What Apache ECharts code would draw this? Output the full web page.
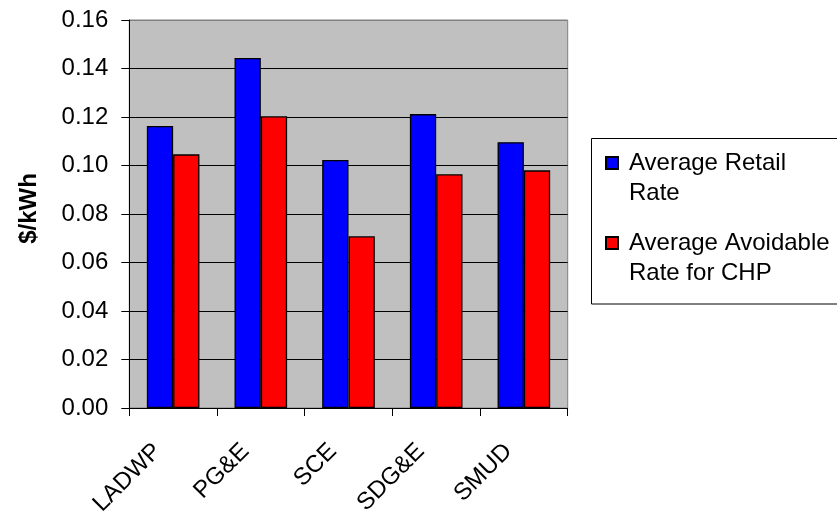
<!DOCTYPE html>
<html>
<head>
<meta charset="utf-8">
<script src="https://cdn.jsdelivr.net/npm/echarts@6/dist/echarts.min.js"></script>
<style>html,body{margin:0;padding:0;background:#fff}#c{width:837px;height:519px}</style>
</head>
<body>
<div id="c"></div>
<script>
var categories = ['LADWP', 'PG&E', 'SCE', 'SDG&E', 'SMUD'];
var retailRate = [0.1163, 0.1443, 0.1023, 0.1212, 0.1096];
var avoidableRate = [0.1046, 0.1203, 0.0708, 0.0964, 0.0980];
var seriesNames = ['Average Retail Rate', 'Average Avoidable Rate for CHP'];
var legendLabels = ['Average Retail\nRate', 'Average Avoidable\nRate for CHP'];
var yTicks = [0, 0.02, 0.04, 0.06, 0.08, 0.10, 0.12, 0.14, 0.16];

var FONT = '"Liberation Sans", Arial, sans-serif';
var chart = echarts.init(document.getElementById('c'), null, {renderer: 'canvas'});
var splitColors = yTicks.map(function (v, i) { return i === yTicks.length - 1 ? '#808080' : '#000000'; });

chart.setOption({
  animation: false,
  backgroundColor: '#ffffff',
  textStyle: {fontFamily: FONT},
  grid: {
    left: 129.3, right: 269.3, top: 20, bottom: 111,
    show: true, backgroundColor: '#c0c0c0', borderColor: '#808080', borderWidth: 1
  },
  xAxis: {
    type: 'category',
    data: categories,
    axisLine: {lineStyle: {color: '#000', width: 1}},
    axisTick: {show: true, length: 8, lineStyle: {color: '#000'}},
    axisLabel: {
      rotate: 45, margin: 24, fontSize: 24, color: '#000', fontFamily: FONT,
      padding: [0, 22, 0, 0], interval: 0
    },
    splitLine: {show: false}
  },
  yAxis: {
    type: 'value',
    min: 0, max: 0.16, interval: 0.02,
    name: '$/kWh',
    nameLocation: 'middle',
    nameGap: 88,
    nameTextStyle: {fontSize: 24, fontWeight: 'bold', color: '#000', fontFamily: FONT, padding: [0, 0, 0, 11]},
    axisLine: {show: true, lineStyle: {color: '#000', width: 1}},
    axisTick: {show: true, length: 8, lineStyle: {color: '#000'}},
    axisLabel: {
      margin: 21, fontSize: 24, color: '#000', fontFamily: FONT,
      formatter: function (v) { return v.toFixed(2); }
    },
    splitLine: {show: true, lineStyle: {color: splitColors, width: 1}}
  },
  legend: {
    orient: 'vertical',
    left: 605, top: 118,
    padding: 0,
    itemWidth: 12, itemHeight: 12,
    itemGap: -10,
    icon: 'rect',
    selectedMode: false,
    data: seriesNames,
    formatter: function (name) { return ' \n' + legendLabels[seriesNames.indexOf(name)]; },
    textStyle: {fontSize: 24, lineHeight: 30, color: '#000', fontFamily: FONT, padding: [0, 0, 0, 6]}
  },
  graphic: [{
    type: 'rect', z: -1,
    shape: {x: 591.5, y: 138.5, width: 260, height: 165.5},
    style: {fill: '#fff', stroke: '#000', lineWidth: 1}
  }],
  series: [{
    name: seriesNames[0], type: 'bar', data: retailRate,
    barGap: '0%', barCategoryGap: '40%',
    itemStyle: {color: '#0000ff', borderColor: '#000', borderWidth: 1.3}
  }, {
    name: seriesNames[1], type: 'bar', data: avoidableRate,
    barGap: '0%', barCategoryGap: '40%',
    itemStyle: {color: '#ff0000', borderColor: '#000', borderWidth: 1.3}
  }]
});
</script>
</body>
</html>
